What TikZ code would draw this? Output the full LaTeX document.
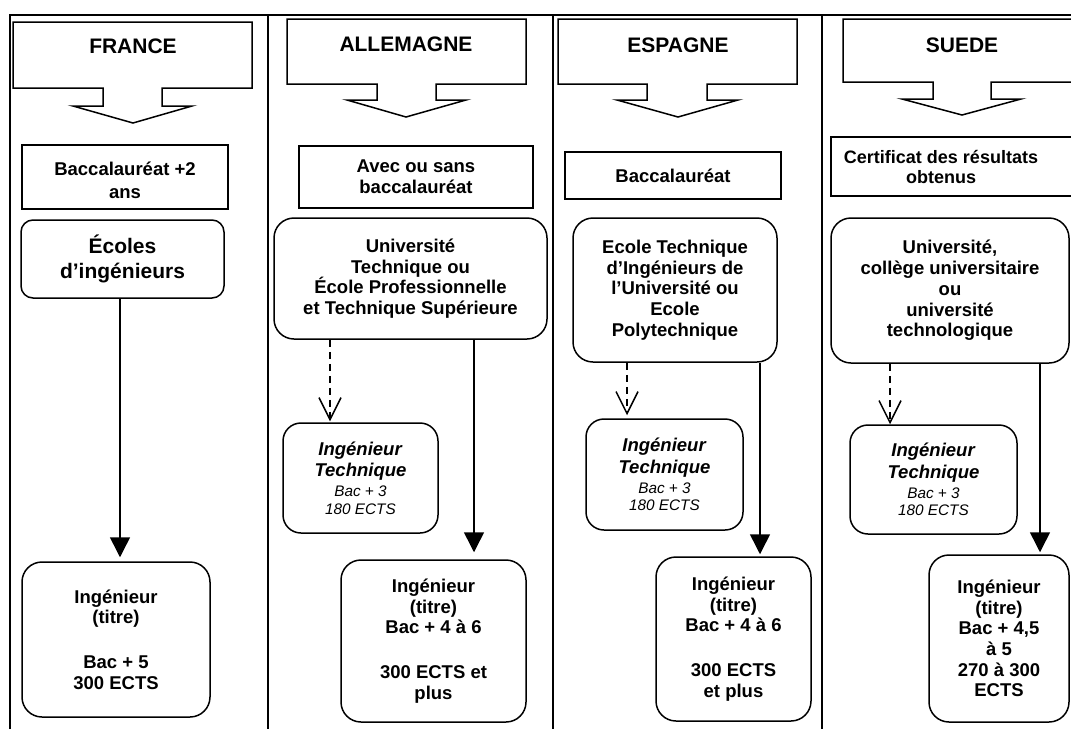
\documentclass[tikz,border=0pt]{standalone}
\usepackage{fontspec}
\setmainfont{Liberation Sans}
\usetikzlibrary{arrows.meta}
\newcommand\hdfont{\fontsize{21}{25}\selectfont\bfseries}
\newcommand\bdfont{\fontsize{18.5}{20.7}\selectfont\bfseries}
\newcommand\smfont{\fontsize{15.3}{18}\selectfont\mdseries\itshape}
\tikzset{
  frameline/.style={line width=1.6pt},
  hdr/.style={draw, line width=1.5pt, line join=miter},
  hdtext/.style={font=\hdfont, inner sep=0pt},
  sbox/.style={draw, line width=1.5pt, rectangle, inner sep=0pt, align=center, font=\bdfont},
  rbox/.style={sbox, rounded corners=#1},
  rbox/.default=18pt,
  solidarr/.style={line width=1.5pt, -{Triangle[length=20pt,width=20pt]}},
  dasharr/.style={line width=1.5pt, dash pattern=on 7pt off 5pt, -{Straight Barb[length=22pt,width=22pt]}},
}
\begin{document}
\begin{tikzpicture}[x=1pt,y=-1pt]
\useasboundingbox (0,0) rectangle (1071,729);
\fill[white] (0,0) rectangle (1071,729);
% frame
\draw[frameline] (10,729) -- (10,15) -- (1071,15);
\draw[frameline] (268,15) -- (268,729);
\draw[frameline] (553,15) -- (553,729);
\draw[frameline] (822,15) -- (822,729);

% ---------- headers ----------
\draw[hdr] (13,22) -- (252,22) -- (252,88) -- (162,88) -- (162,106) -- (192,106) -- (133,123) -- (73,106) -- (103,106) -- (103,88) -- (13,88) -- cycle;
\node[hdtext] (frhd) at (133,46) {FRANCE};
\draw[hdr] (287,19) -- (526,19) -- (526,84) -- (436,84) -- (436,100) -- (466,100) -- (406,117) -- (347,100) -- (377,100) -- (377,84) -- (287,84) -- cycle;
\node[hdtext] (alhd) at (406,44) {ALLEMAGNE};
\draw[hdr] (558,19) -- (797,19) -- (797,84) -- (707,84) -- (707,100) -- (738,100) -- (678,117) -- (617,100) -- (647,100) -- (647,84) -- (558,84) -- cycle;
\node[hdtext] (eshd) at (678,45) {ESPAGNE};
\draw[hdr] (843,19) -- (1081,19) -- (1081,82) -- (991,82) -- (991,99) -- (1021,99) -- (962,115) -- (902,99) -- (933,99) -- (933,82) -- (843,82) -- cycle;
\node[hdtext] (suhd) at (962,45) {SUEDE};

% ---------- FRANCE ----------
\node[sbox, minimum width=206pt, minimum height=64pt] (frbac) at (125,177) {\raisebox{-6pt}[\height][\depth]{\begin{tabular}{@{}c@{}}Baccalauréat +2\\[2pt]ans\end{tabular}}};
\node[rbox=12pt, font=\hdfont, minimum width=203pt, minimum height=78pt] (frec) at (122.5,259) {Écoles\\d’ingénieurs};
\node[rbox=20pt, minimum width=188pt, minimum height=155pt] (fring) at (116,639.5) {Ingénieur\\(titre)\\[24pt]Bac + 5\\300 ECTS};
\coordinate (frx) at (120,0);
\draw[solidarr, shorten >=4pt] (frec.south -| frx) -- (fring.north -| frx);

% ---------- ALLEMAGNE ----------
\node[sbox, minimum width=234pt, minimum height=62pt] (albac) at (416,177) {Avec ou sans\\baccalauréat};
\node[rbox=20pt, minimum width=273pt, minimum height=121pt] (alun) at (410.5,278.5) {Université\\Technique ou\\École Professionnelle\\et Technique Supérieure};
\node[rbox=18pt, minimum width=155pt, minimum height=110pt] (alit) at (360.5,478) {\textit{Ingénieur}\\[1pt]\textit{Technique}\\[-1pt]{\smfont Bac + 3}\\[-3pt]{\smfont 180 ECTS}};
\node[rbox=20pt, minimum width=185pt, minimum height=162pt] (aling) at (433.5,641) {Ingénieur\\(titre)\\Bac + 4 à 6\\[24pt]300 ECTS et\\plus};
\coordinate (aldx) at (330,0);
\coordinate (alsx) at (474,0);
\draw[dasharr, shorten >=1pt] (alun.south -| aldx) -- (alit.north -| aldx);
\draw[solidarr, shorten >=7pt] (alun.south -| alsx) -- (aling.north -| alsx);

% ---------- ESPAGNE ----------
\node[sbox, minimum width=216pt, minimum height=47pt] (esbac) at (673,175.5) {Baccalauréat};
\node[rbox=20pt, minimum width=204pt, minimum height=144pt] (esec) at (675,290) {Ecole Technique\\d’Ingénieurs de\\l’Université ou\\Ecole\\Polytechnique};
\node[rbox=18pt, minimum width=157pt, minimum height=111pt] (esit) at (664.5,474.5) {\textit{Ingénieur}\\[1pt]\textit{Technique}\\[-1pt]{\smfont Bac + 3}\\[-3pt]{\smfont 180 ECTS}};
\node[rbox=20pt, minimum width=155pt, minimum height=164pt] (esing) at (733.5,639) {Ingénieur\\(titre)\\Bac + 4 à 6\\[24pt]300 ECTS\\et plus};
\coordinate (esdx) at (627,0);
\coordinate (essx) at (760,0);
\draw[dasharr, shorten >=3pt] (esec.south -| esdx) -- (esit.north -| esdx);
\draw[solidarr, shorten >=2pt] (esec.south -| essx) -- (esing.north -| essx);

% ---------- SUEDE ----------
\node[sbox, minimum width=254pt, minimum height=59pt] (sucert) at (958,166.5) {};
\node[font=\fontsize{18}{20}\selectfont\bfseries, align=center, inner sep=0pt] (sucertt) at (941,167) {Certificat des résultats\\obtenus};
\node[rbox=20pt, minimum width=238pt, minimum height=145pt] (suun) at (950,290.5) {Université,\\collège universitaire\\ou\\université\\technologique};
\node[rbox=18pt, minimum width=167pt, minimum height=109pt] (suit) at (933.5,479.5) {\textit{Ingénieur}\\[1pt]\textit{Technique}\\[-1pt]{\smfont Bac + 3}\\[-3pt]{\smfont 180 ECTS}};
\node[rbox=20pt, minimum width=140pt, minimum height=167pt] (suing) at (999,638.5) {Ingénieur\\(titre)\\Bac + 4,5\\à 5\\270 à 300\\ECTS};
\coordinate (sudx) at (890,0);
\coordinate (susx) at (1040,0);
\draw[dasharr] (suun.south -| sudx) -- (suit.north -| sudx);
\draw[solidarr, shorten >=2pt] (suun.south -| susx) -- (suing.north -| susx);
\end{tikzpicture}
\end{document}
